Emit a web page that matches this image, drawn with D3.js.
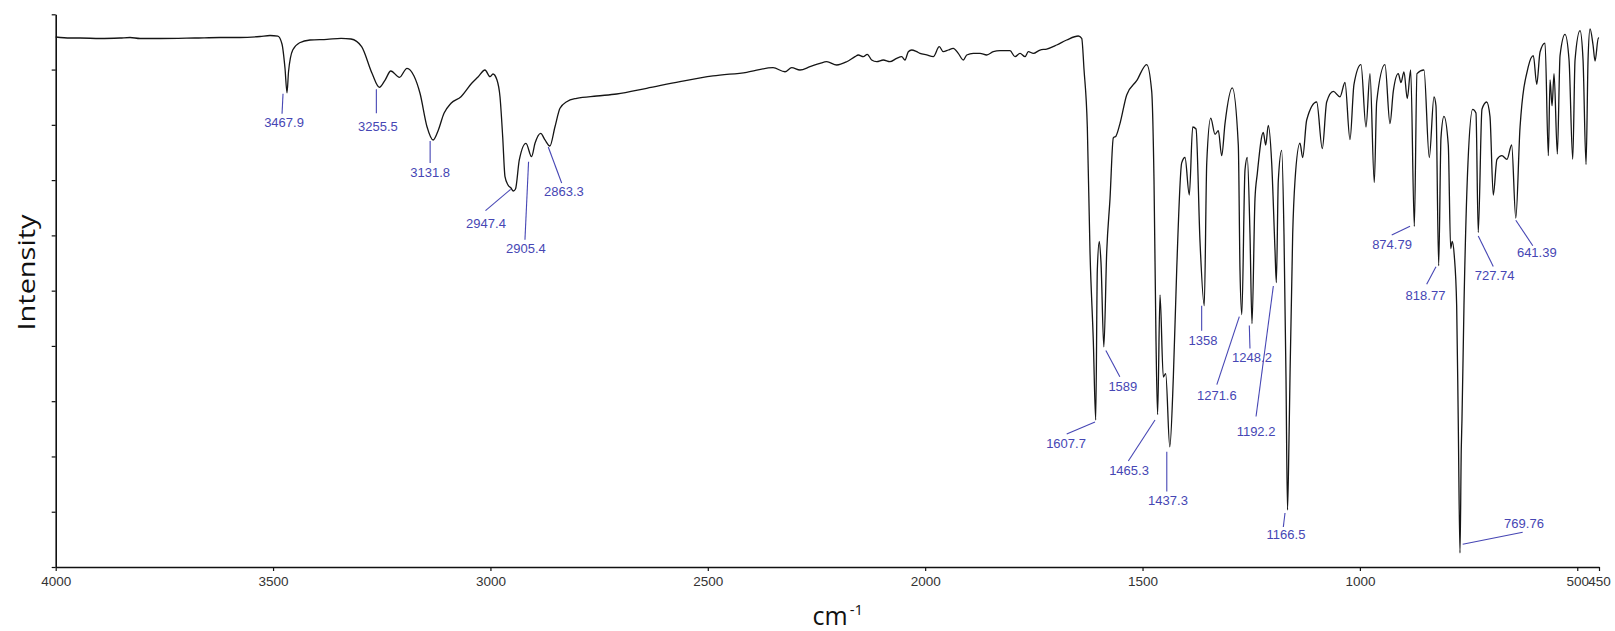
<!DOCTYPE html>
<html>
<head>
<meta charset="utf-8">
<script src="https://cdn.jsdelivr.net/npm/d3@7"></script>
<style>
  html, body { margin: 0; padding: 0; background: #fff; }
  svg { display: block; }
</style>
</head>
<body>
<svg id="chart" width="1615" height="631"></svg>
<script>
// IR spectrum: wavenumber (cm-1) and relative intensity (0-100)
const wavenumbers = [
  4000, 3967, 3944, 3898, 3852, 3829, 3806, 3760, 3680, 3622, 3576, 3530, 3507, 3489,
  3479.5, 3472.6, 3467.9, 3464.5, 3454.8, 3438.9, 3415, 3375.9, 3343.7, 3320.7, 3296.3,
  3272.4, 3255.5, 3242.3, 3229.2, 3209.2, 3191.9, 3175.8, 3162, 3145.9, 3131.8, 3120.6,
  3106.8, 3090.7, 3067.7, 3043.1, 3028.6, 3012.5, 3001, 2994.1, 2984.9, 2978, 2971.8,
  2966.5, 2959.6, 2952.7, 2947.4, 2942.3, 2933.6, 2918.2, 2905.4, 2897.5, 2884.4, 2874.5,
  2863.3, 2851.5, 2840, 2824.6, 2801.6, 2755.6, 2709.6, 2640.6, 2564, 2488.1, 2410.5,
  2350, 2322.4, 2307, 2287.9, 2264.9, 2241.9, 2226.5, 2203.5, 2180.5, 2161.4, 2153.8,
  2142.3, 2133.1, 2123, 2111.5, 2096.3, 2080.9, 2065.5, 2054, 2046.4, 2038.8, 2031,
  2019.5, 2011.9, 1996.5, 1981.3, 1967.5, 1958.3, 1946.8, 1935.3, 1923.8, 1912.3, 1904.4,
  1889.3, 1873.8, 1858.4, 1843.3, 1827.8, 1804.8, 1793.3, 1781.8, 1770.3, 1762.7, 1751.2,
  1735.8, 1720.4, 1697.4, 1674.4, 1647.7, 1639.9, 1634.6, 1627, 1620.8, 1613.2, 1607.7,
  1604, 1599.4, 1595.5, 1589, 1582.4, 1574.8, 1567.2, 1561, 1551.9, 1536.4, 1513.4,
  1490.4, 1478.9, 1473.6, 1469, 1465.3, 1459.8, 1452.2, 1446.7, 1437.3, 1429.1, 1421.4,
  1409.9, 1402.3, 1392.4, 1384.6, 1376.9, 1367.8, 1358, 1352.3, 1343.1, 1333.2, 1325.6,
  1317.9, 1310.3, 1293.5, 1279.7, 1275.8, 1271.6, 1264.3, 1259, 1252.8, 1248.2, 1241.3,
  1236, 1222.2, 1216.7, 1210.7, 1202.9, 1195.3, 1192.2, 1187.7, 1179.9, 1174.6, 1170,
  1166.5, 1163.1, 1160.8, 1154.6, 1149.3, 1137.8, 1131.6, 1122.4, 1099.4, 1086.5, 1076.4,
  1061.2, 1045.8, 1034.3, 1022.8, 1013.6, 997.5, 986, 976.8, 966.9, 961.4, 942.3, 930.8,
  923.2, 911.7, 905.5, 898.6, 891, 883.2, 874.79, 868.7, 852.6, 840.4, 829.6, 825,
  818.77, 813.5, 806.6, 796.7, 791.2, 787.5, 782.9, 777.4, 773.7, 769.76, 766.8, 765.2,
  760.6, 751.4, 740.6, 733, 727.74, 719.2, 708.4, 700.8, 693.2, 684.7, 673.2, 661.7,
  650.9, 641.39, 631.6, 612.5, 601, 593.2, 585.6, 574.1, 566.5, 562.6, 558, 553.4,
  545.8, 539.6, 528.1, 518.9, 510.4, 505.1, 493.6, 486.7, 479.8, 475.2, 470.6, 463.7,
  459.1, 451.5, 450
];

const intensity = [
  95.89, 95.71, 95.71, 95.62, 95.71, 95.80, 95.62, 95.62, 95.71, 95.80, 95.80, 95.98, 96.16, 96.07,
  94.63, 90.28, 85.81, 89.56, 93.54, 94.86, 95.35, 95.48, 95.66, 95.53, 94.14,
  89.32, 86.79, 88.11, 89.74, 88.60, 90.23, 88.84, 85.71, 79.66, 77.26, 78.89,
  82.09, 83.90, 85.09, 87.52, 88.66, 89.92, 88.71, 89.20, 88.11, 85.09, 77.85,
  70.62, 69.12, 68.57, 68.03, 68.39, 73.64, 76.66, 74.24, 76.66, 78.47, 77.26,
  76.17, 79.66, 82.99, 84.19, 84.80, 85.22, 85.58, 86.61, 87.81, 88.84, 89.51,
  90.34, 89.61, 90.34, 89.92, 90.52, 91.13, 91.42, 90.83, 91.42, 92.33, 92.64,
  92.33, 92.76, 91.73, 91.42, 91.73, 91.42, 92.04, 92.33, 91.73, 93.23, 93.54,
  93.23, 92.94, 92.64, 92.33, 94.14, 93.23, 93.54, 93.85, 92.94, 91.73, 92.64,
  92.94, 92.94, 92.64, 93.23, 93.41, 93.41, 92.33, 92.94, 92.33, 93.23, 92.94,
  93.54, 93.72, 94.45, 95.35, 96.07, 95.66, 90.00, 79.61, 56.99, 40.89, 26.60,
  53.74, 58.91, 55.02, 39.84, 56.99, 66.65, 77.64, 77.98, 80.22, 85.40, 87.99,
  90.90, 86.05, 69.89, 40.89, 27.57, 49.21, 34.38, 34.99, 21.75, 34.38, 53.74,
  73.11, 74.09, 67.31, 79.61, 79.25, 58.91, 47.28, 73.11, 81.20, 78.29, 78.94,
  74.42, 80.22, 86.68, 76.35, 53.74, 45.67, 71.83, 74.09, 60.20, 44.04, 66.65,
  71.18, 78.61, 76.35, 79.90, 73.11, 57.36, 51.47, 69.89, 75.38, 60.20, 34.38,
  10.31, 22.98, 34.38, 60.20, 69.89, 76.68, 74.09, 80.88, 84.13, 75.70, 84.13,
  86.05, 85.07, 87.66, 77.33, 87.33, 90.90, 79.61, 89.27, 69.57, 84.13, 90.90, 80.22,
  86.05, 89.27, 87.66, 89.60, 84.75, 89.92, 61.63, 89.27, 89.92, 74.09, 85.07, 83.46,
  54.51, 77.64, 81.53, 76.35, 57.61, 58.91, 56.32, 47.28, 25.95, 2.53, 21.42, 26.60,
  47.28, 73.11, 82.81, 82.16, 60.52, 82.81, 84.13, 81.53, 67.31, 73.76, 74.42, 73.76,
  76.35, 63.11, 79.61, 90.57, 92.51, 87.33, 93.18, 94.77, 74.42, 88.11, 83.46, 89.27,
  74.72, 92.51, 96.38, 91.73, 73.76, 91.73, 97.03, 91.73, 72.81, 91.73, 97.36, 94.45,
  91.55, 95.73, 95.71
];

// Picked peak labels (wavenumbers as printed)
const peakLabels = [
  "3467.9", "3255.5", "3131.8", "2947.4", "2905.4", "2863.3",
  "1607.7", "1589", "1465.3", "1437.3", "1358", "1271.6", "1248.2", "1192.2", "1166.5",
  "874.79", "818.77", "727.74", "641.39", "769.76"
];

// Callout placement relative to each peak: [lineStartDx, lineStartDy, lineEndDx, lineEndDy, textDx, textDy]
const calloutOffsets = [
  [-4, 1, -5, 21, -3, 34],
  [-3, 2, -3, 26, -1.5, 44],
  [-3, 1, -3, 23, -3, 37],
  [-2.6, -1.7, -27.8, 19.7, -27.3, 37],
  [-3, 5, -6.6, 83, -5.6, 96],
  [-1.6, 1, 11.8, 37, 14, 50],
  [-0.7, 2, -29, 14, -29.7, 28],
  [2, 3.6, 16, 30, 19, 44],
  [-2.6, 5.4, -29.3, 46.4, -28.6, 60.4],
  [-3, 5, -3, 44.6, -1.8, 58],
  [-2.6, 0, -2.6, 25, -1.3, 39],
  [-2.5, 2, -25, 70, -25, 85],
  [-2.7, 2, -2, 25, 0, 38.4],
  [-3, 3.5, -20.3, 134, -20.3, 153.5],
  [-2.5, 3, -4.2, 17, -1.5, 29],
  [-4.3, 0, -22.6, 8.6, -22.3, 22.6],
  [-2.7, 1, -12, 18.6, -13.2, 34.3],
  [0, 3.5, 15, 34, 16.3, 47.5],
  [0, 2, 17, 27.5, 21, 39],
  [2.7, -8.7, 62.7, -20.7, 64, -25]
];

const xTickValues = [4000, 3500, 3000, 2500, 2000, 1500, 1000, 500, 450];
const yTickValues = [0, 10, 20, 30, 40, 50, 60, 70, 80, 90, 100];

const svg = d3.select("#chart");
svg.append("rect").attr("width", 1615).attr("height", 631).attr("fill", "#fff");

const x = d3.scaleLinear().domain([4000, 450]).range([55.7, 1599]);
const y = d3.scaleLinear().domain([0, 100]).range([567, 14.3]);

const points = wavenumbers.map((w, i) => ({ w, v: intensity[i] }));

// Axes
const xAxis = d3.axisBottom(x)
  .tickValues(xTickValues)
  .tickFormat(d3.format("d"))
  .tickSize(4)
  .tickSizeOuter(0)
  .tickPadding(5);

const gx = svg.append("g")
  .attr("transform", `translate(0,${y(0)})`)
  .call(xAxis);
gx.select(".domain").attr("stroke", "#111").attr("stroke-width", 1.6);
gx.selectAll(".tick line").attr("stroke", "#111").attr("stroke-width", 1.2);
gx.selectAll(".tick text")
  .attr("fill", "#333")
  .style("font-family", "'Liberation Sans', Arial, sans-serif")
  .style("font-size", "13.5px");

const yAxis = d3.axisLeft(y)
  .tickValues(yTickValues)
  .tickFormat("")
  .tickSize(4)
  .tickSizeOuter(0);

const gy = svg.append("g")
  .attr("transform", `translate(${x(4000)},0)`)
  .call(yAxis);
gy.select(".domain").attr("stroke", "#111").attr("stroke-width", 1.6);
gy.selectAll(".tick line").attr("stroke", "#111").attr("stroke-width", 1.2);

// Spectrum trace
const line = d3.line()
  .x(d => x(d.w))
  .y(d => y(d.v))
  .curve(d3.curveMonotoneX);

svg.append("path")
  .datum(points)
  .attr("fill", "none")
  .attr("stroke", "#151515")
  .attr("stroke-width", 1.3)
  .attr("stroke-linejoin", "round")
  .attr("d", line);

// Peak callouts
const labelColor = "#4646b4";
const callouts = peakLabels.map((label, i) => {
  const w = +label;
  const p = points.find(d => Math.abs(d.w - w) < 0.005);
  return { label, px: x(w), py: y(p.v), o: calloutOffsets[i] };
});

const gc = svg.append("g");
gc.selectAll("line")
  .data(callouts)
  .join("line")
  .attr("x1", d => d.px + d.o[0])
  .attr("y1", d => d.py + d.o[1])
  .attr("x2", d => d.px + d.o[2])
  .attr("y2", d => d.py + d.o[3])
  .attr("stroke", labelColor)
  .attr("stroke-width", 1.1);

gc.selectAll("text")
  .data(callouts)
  .join("text")
  .attr("x", d => d.px + d.o[4])
  .attr("y", d => d.py + d.o[5])
  .attr("text-anchor", "middle")
  .attr("fill", labelColor)
  .style("font-family", "'Liberation Sans', Arial, sans-serif")
  .style("font-size", "13px")
  .text(d => d.label);

// Axis titles
svg.append("text")
  .attr("transform", "translate(35,272.5) rotate(-90)")
  .attr("text-anchor", "middle")
  .attr("fill", "#111")
  .attr("textLength", 116)
  .attr("lengthAdjust", "spacingAndGlyphs")
  .style("font-family", "'Open Sans', 'Noto Sans', sans-serif")
  .style("font-size", "24px")
  .text("Intensity");

const xt = svg.append("text")
  .attr("x", 812.5)
  .attr("y", 625)
  .attr("fill", "#111")
  .style("font-family", "'Open Sans', 'Noto Sans', sans-serif")
  .style("font-size", "25px");
xt.append("tspan").text("cm");
xt.append("tspan")
  .attr("dx", 2)
  .attr("dy", -10)
  .style("font-size", "15px")
  .text("-1");
</script>
</body>
</html>
